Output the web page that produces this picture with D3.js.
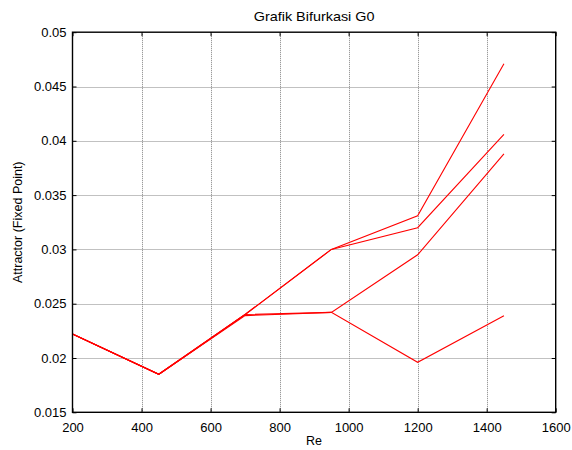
<!DOCTYPE html>
<html>
<head>
<meta charset="utf-8">
<script src="https://cdn.jsdelivr.net/npm/d3@7/dist/d3.min.js"></script>
<style>
  html, body { margin: 0; padding: 0; background: #fff; }
  text { font-family: Arial, "Liberation Sans", sans-serif; fill: #000; }
</style>
</head>
<body>
<script>
// Reynolds numbers sampled
const reValues = [200, 450, 700, 950, 1200, 1450];

// Fixed-point branches of the bifurcation diagram
const branchA = [0.0222, 0.0185, 0.0240, 0.0300, 0.0331, 0.0471];
const branchB = [0.0222, 0.0185, 0.0240, 0.0300, 0.0320, 0.0406];
const branchC = [0.0222, 0.0185, 0.0240, 0.0242, 0.0295, 0.0388];
const branchD = [0.0222, 0.0185, 0.0239, 0.0242, 0.0196, 0.0239];
const branches = [branchA, branchB, branchC, branchD];

const xTicks = [200, 400, 600, 800, 1000, 1200, 1400, 1600];
const yTicks = [0.015, 0.02, 0.025, 0.03, 0.035, 0.04, 0.045, 0.05];
const yTickLabels = ["0.015", "0.02", "0.025", "0.03", "0.035", "0.04", "0.045", "0.05"];

const W = 572, H = 450;
const m = { left: 72.5, right: 572 - 555.7, top: 32.2, bottom: 450 - 412.3 };

const svg = d3.select("body").append("svg")
  .attr("width", W).attr("height", H);

const x = d3.scaleLinear().domain([200, 1600]).range([m.left, W - m.right]);
const y = d3.scaleLinear().domain([0.015, 0.05]).range([H - m.bottom, m.top]);

// dotted grid
const grid = svg.append("g").attr("stroke", "#333").attr("stroke-width", 1)
  .attr("stroke-dasharray", "1,1").attr("opacity", 0.6);
xTicks.slice(1, -1).forEach(t => grid.append("line")
  .attr("x1", Math.round(x(t)) + 0.5).attr("x2", Math.round(x(t)) + 0.5)
  .attr("y1", y(0.05)).attr("y2", y(0.015)));
yTicks.slice(1, -1).forEach(t => grid.append("line")
  .attr("x1", x(200)).attr("x2", x(1600))
  .attr("y1", Math.round(y(t)) + 0.5).attr("y2", Math.round(y(t)) + 0.5));

// data lines
const line = d3.line().x((d, i) => x(reValues[i])).y(d => y(d));
svg.append("g").selectAll("path").data(branches).join("path")
  .attr("d", line).attr("fill", "none").attr("stroke", "#ff0000")
  .attr("stroke-width", 1.1);

// axes with inward ticks on all four sides
const tick = 4;
svg.append("g").attr("transform", `translate(0,${y(0.015)})`)
  .call(d3.axisBottom(x).tickValues(xTicks).tickSizeInner(-tick).tickSizeOuter(0).tickPadding(10).tickFormat(d3.format("d")))
  .call(g => g.select(".domain").remove())
  .call(g => g.selectAll("text").attr("font-size", 13).attr("dy", "0.71em"));
svg.append("g").attr("transform", `translate(0,${y(0.05)})`)
  .call(d3.axisTop(x).tickValues(xTicks).tickSizeInner(-tick).tickSizeOuter(0).tickFormat(""))
  .call(g => g.select(".domain").remove());
svg.append("g").attr("transform", `translate(${x(200)},0)`)
  .call(d3.axisLeft(y).tickValues(yTicks).tickSizeInner(-tick).tickSizeOuter(0).tickPadding(6)
    .tickFormat((d, i) => yTickLabels[i]))
  .call(g => g.select(".domain").remove())
  .call(g => g.selectAll("text").attr("font-size", 13));
svg.append("g").attr("transform", `translate(${x(1600)},0)`)
  .call(d3.axisRight(y).tickValues(yTicks).tickSizeInner(-tick).tickSizeOuter(0).tickFormat(""))
  .call(g => g.select(".domain").remove());

// axes box
svg.append("rect").attr("x", x(200)).attr("y", y(0.05))
  .attr("width", x(1600) - x(200)).attr("height", y(0.015) - y(0.05))
  .attr("fill", "none").attr("stroke", "#000").attr("stroke-width", 1.4);

// title and axis labels
const cx = (x(200) + x(1600)) / 2;
svg.append("text").attr("transform", `translate(${cx},21) scale(1.2,1)`)
  .attr("text-anchor", "middle").attr("font-size", 12).text("Grafik Bifurkasi G0");
svg.append("text").attr("x", cx).attr("y", 445)
  .attr("text-anchor", "middle").attr("font-size", 12.5).text("Re");
svg.append("text").attr("transform", `translate(21.5,${(y(0.05) + y(0.015)) / 2}) rotate(-90)`)
  .attr("text-anchor", "middle").attr("font-size", 12.5).text("Attractor (Fixed Point)");
</script>
</body>
</html>
